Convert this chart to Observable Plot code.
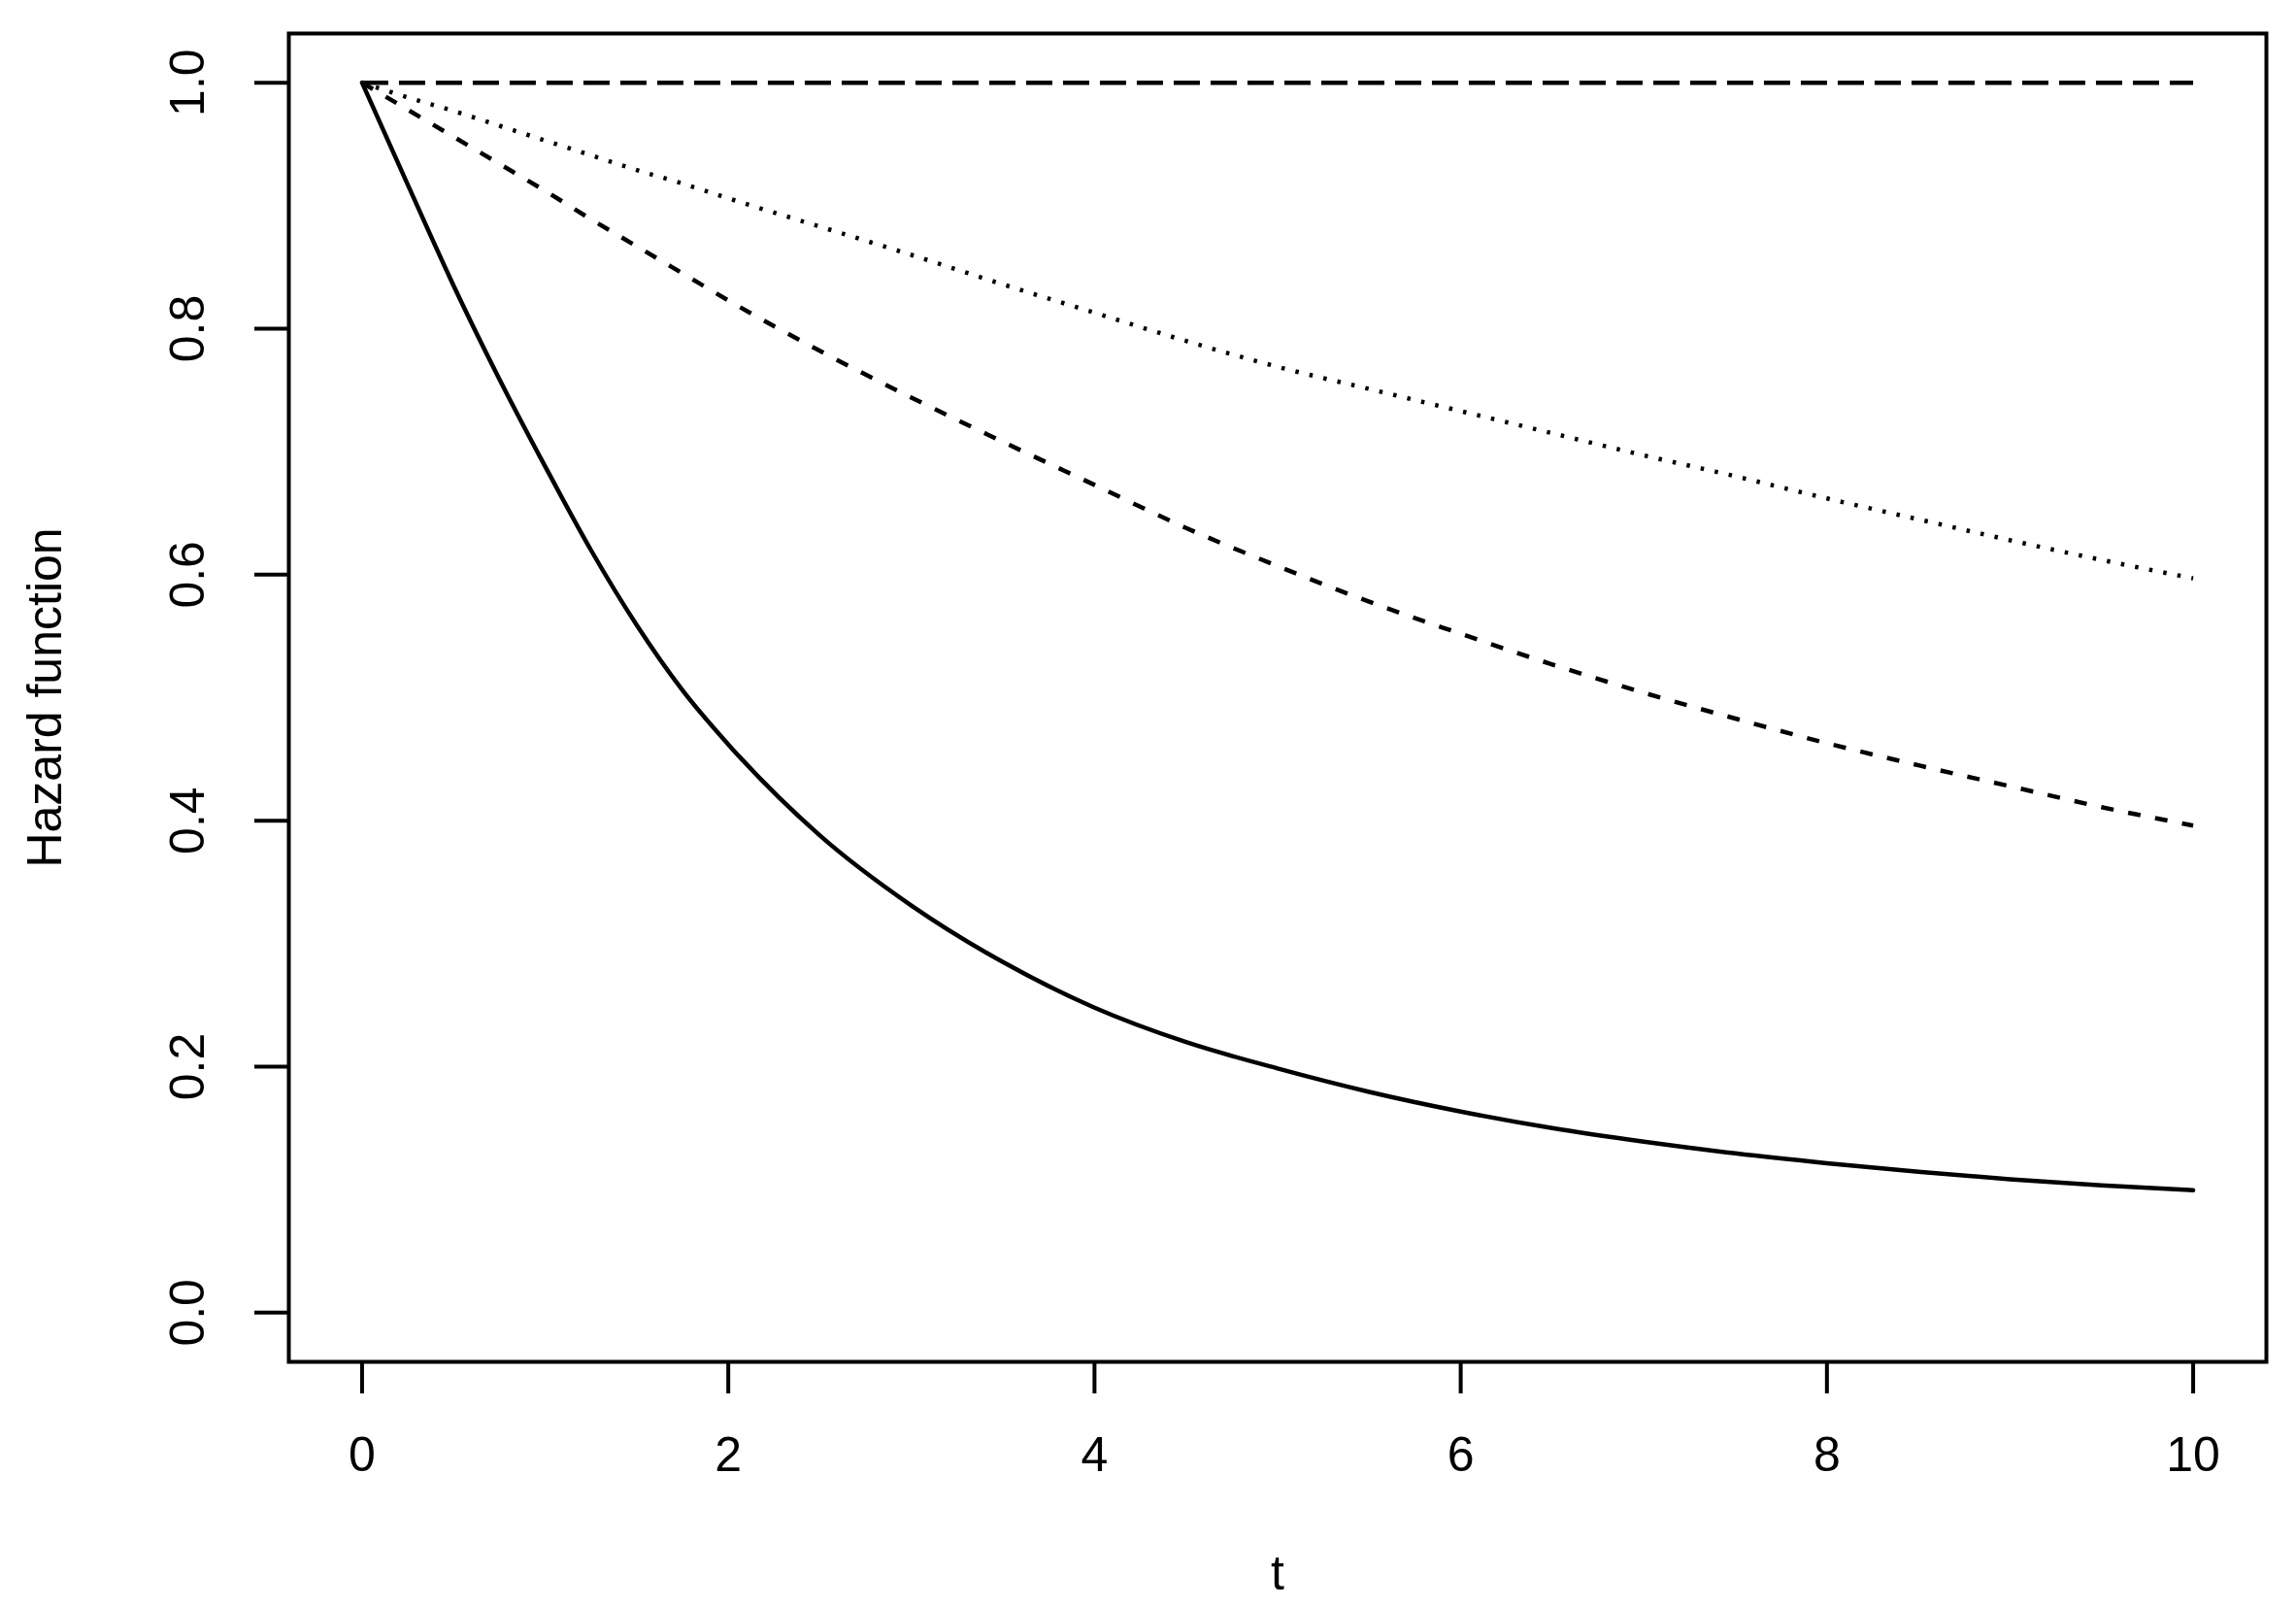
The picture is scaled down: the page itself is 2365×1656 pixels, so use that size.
<!DOCTYPE html>
<html>
<head>
<meta charset="utf-8">
<script src="https://cdn.jsdelivr.net/npm/d3@7"></script>
<script src="https://cdn.jsdelivr.net/npm/@observablehq/plot@0.6"></script>
<style>
html, body { margin: 0; padding: 0; background: #fff; overflow: hidden; }
</style>
</head>
<body>
<div id="chart"></div>
<script>
// ---- data ----
const tGrid   = [0, 0.25, 0.5, 0.75, 1, 1.25, 1.5, 1.75, 2, 2.5, 3, 3.5, 4, 4.5, 5, 5.5, 6, 6.5, 7, 7.5, 8, 8.5, 9, 9.5, 10];
const hSolid  = [1.000, 0.917, 0.835, 0.759, 0.688, 0.620, 0.559, 0.506, 0.462, 0.388, 0.331, 0.285, 0.248, 0.220, 0.1985, 0.1795, 0.1635, 0.150, 0.139, 0.1295, 0.1215, 0.1145, 0.1085, 0.1035, 0.0995];
const hDashed = [1.000, 0.978, 0.956, 0.934, 0.912, 0.889, 0.867, 0.845, 0.823, 0.782, 0.744, 0.708, 0.673, 0.638, 0.607, 0.578, 0.552, 0.527, 0.504, 0.483, 0.463, 0.445, 0.428, 0.411, 0.396];
const hDotted = [1.000, 0.988, 0.977, 0.965, 0.953, 0.941, 0.929, 0.918, 0.906, 0.883, 0.860, 0.836, 0.813, 0.790, 0.769, 0.751, 0.733, 0.715, 0.697, 0.680, 0.662, 0.645, 0.628, 0.612, 0.597];
const tConst  = [0, 10];
const hConst  = [1, 1];
const xTicks  = [0, 2, 4, 6, 8, 10];
const yTicks  = [0, 0.2, 0.4, 0.6, 0.8, 1.0];
const xTitle  = "t";
const yTitle  = "Hazard function";

const rows = (ts, hs) => ts.map((t, i) => ({t, h: hs[i]}));
const fmt = d3.format(".1f");
const base = {x: "t", y: "h", stroke: "black", strokeWidth: 4.5, curve: "monotone-x"};

const chart = Plot.plot({
  width: 2365,
  height: 1656,
  marginLeft: 297,
  marginRight: 31,
  marginTop: 34,
  marginBottom: 254,
  x: {domain: [-0.4, 10.4]},
  y: {domain: [-0.04, 1.04]},
  style: {fontFamily: '"Liberation Sans", Arial, Helvetica, sans-serif', background: "white", color: "black"},
  marks: [
    Plot.frame({stroke: "black", strokeWidth: 4}),
    Plot.axisX(xTicks, {tickSize: 33, strokeWidth: 4, fill: "none", label: null}),
    Plot.axisY(yTicks, {tickSize: 35, strokeWidth: 4, fill: "none", label: null}),
    Plot.line(rows(tGrid, hSolid), {...base}),
    Plot.line(rows(tGrid, hDashed), {...base, strokeDasharray: "13,15.3", strokeLinecap: "butt"}),
    Plot.line(rows(tGrid, hDotted), {...base, strokeDasharray: "3.5,11.3", strokeLinecap: "butt"}),
    Plot.line(rows(tConst, hConst), {...base, curve: "linear", strokeDasharray: "27,11", strokeLinecap: "butt"}),
    Plot.text(xTicks, {x: d => d, text: d => String(d), frameAnchor: "bottom", dy: 96, fontSize: 50, lineAnchor: "middle", fill: "black", ariaLabel: "xticklabels"}),
    Plot.text(yTicks, {y: d => d, text: d => fmt(d), frameAnchor: "left", dx: -104, rotate: -90, textAnchor: "middle", lineAnchor: "middle", fontSize: 50, fill: "black", ariaLabel: "yticklabels"}),
    Plot.text([xTitle], {text: d => d, frameAnchor: "bottom", dy: 218, fontSize: 50, lineAnchor: "middle", fill: "black", ariaLabel: "xtitle"}),
    Plot.text([yTitle], {text: d => d, frameAnchor: "left", dx: -251, rotate: -90, textAnchor: "middle", lineAnchor: "middle", fontSize: 50, fill: "black", ariaLabel: "ytitle"})
  ]
});

document.getElementById("chart").appendChild(chart);

// the reference glyphs are slightly wider horizontally on screen
function stretch(label, sx, sy) {
  d3.select(chart).selectAll(`g[aria-label="${label}"] text`).each(function () {
    const tr = this.getAttribute("transform");
    if (tr) {
      this.setAttribute("transform", tr + ` scale(${sx},${sy})`);
    } else {
      const x = +this.getAttribute("x") || 0, y = +this.getAttribute("y") || 0;
      this.setAttribute("transform", `translate(${x},${y}) scale(${sx},${sy})`);
      this.setAttribute("x", 0);
      this.setAttribute("y", 0);
    }
  });
}
stretch("xticklabels", 1.12, 1);
stretch("xtitle", 1.12, 1);
stretch("yticklabels", 1, 1.2);
stretch("ytitle", 1, 1.2);
</script>
</body>
</html>
